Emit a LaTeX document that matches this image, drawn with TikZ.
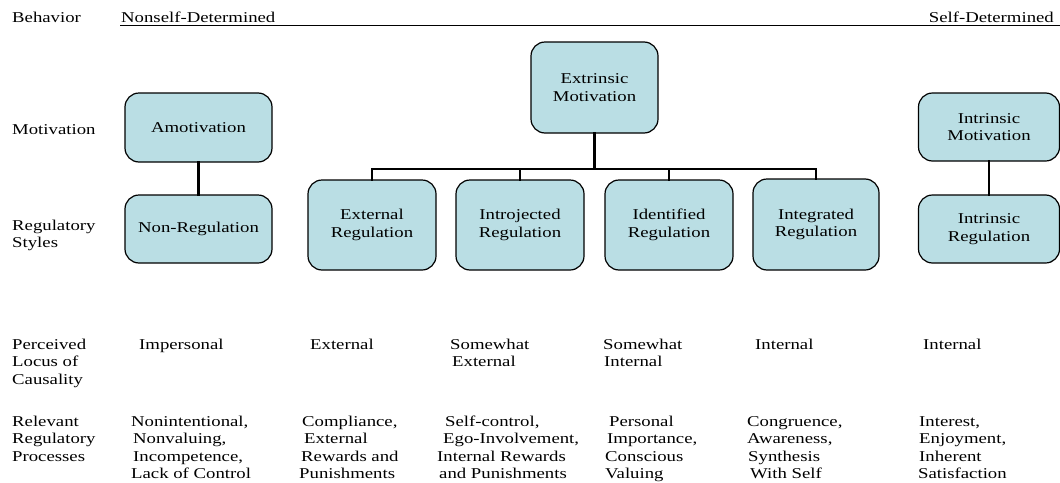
\documentclass[tikz,border=0pt]{standalone}
\usepackage{fontspec}
\setmainfont{Liberation Serif}[FakeStretch=1.25]
\definecolor{boxfill}{RGB}{186,222,228}
\tikzset{
  txt/.style={inner sep=0pt, anchor=base west, font=\fontsize{15}{17.5}\selectfont},
  stage/.style={draw=black, line width=1.2pt, fill=boxfill, rounded corners=14pt,
    align=center, inner sep=2pt, font=\fontsize{15}{17.5}\selectfont},
  link/.style={line width=2.7pt, line cap=rect},
}
% one column of left-aligned lines: name, first baseline, list of x/text
\newcommand{\linecol}[3]{%
  \foreach \lx/\lt [count=\li] in {#3}
    \node[txt] (#1-\li) at (\lx, #2+17.5*\li-17.5) {\lt};}
\begin{document}
\begin{tikzpicture}[x=1pt,y=-1pt]
\useasboundingbox (0,0) rectangle (1060,482);

% header row
\node[txt] (behav) at (12,22.5) {Behavior};
\node[txt] (nonself) at (121,22.5) {Nonself-Determined};
\node[txt, anchor=base east] (self) at (1054,22.5) {Self-Determined};
\coordinate (rule-l) at (120,25.5);
\coordinate (rule-r) at (1060,25.5);
\draw[line width=1.3pt] (rule-l) -- (rule-r);

% row labels
\linecol{motl}{134}{12/Motivation}
\linecol{regl}{230}{12/Regulatory, 12/Styles}
\linecol{locl}{349}{12/Perceived, 12/{Locus of}, 12/Causality}
\linecol{procl}{426}{12/Relevant, 12/Regulatory, 12/Processes}

% motivation and regulation boxes
\node[stage, minimum width=147pt, minimum height=69pt] (amot) at (198.5,127.5) {Amotivation};
\node[stage, minimum width=147pt, minimum height=68pt] (nonreg) at (198.5,229) {Non-Regulation};
\node[stage, minimum width=127pt, minimum height=91pt] (extr) at (594.5,87.5) {Extrinsic\\Motivation};
\node[stage, minimum width=128pt, minimum height=90pt] (ext) at (372,225) {External\\Regulation};
\node[stage, minimum width=128pt, minimum height=90pt] (intro) at (520,225) {Introjected\\Regulation};
\node[stage, minimum width=128pt, minimum height=90pt] (ident) at (669,225) {Identified\\Regulation};
\node[stage, minimum width=126pt, minimum height=91pt] (integ) at (816,224.5) {Integrated\\Regulation};
\node[stage, minimum width=141pt, minimum height=68pt] (intrmot) at (989,127) {Intrinsic\\Motivation};
\node[stage, minimum width=141pt, minimum height=68pt] (intrreg) at (989,229) {Intrinsic\\Regulation};

% connectors
\coordinate (bus) at (594.5,169);
\draw[link] (amot) -- (nonreg);
\draw[link] (intrmot) -- (intrreg);
\draw[link] (extr) -- (bus);
\draw[link] (ext.north) |- (bus) -| (integ.north);
\draw[link] (intro.north) -- (intro.north |- bus);
\draw[link] (ident.north) -- (ident.north |- bus);

% perceived locus of causality
\linecol{loc1}{349}{139/Impersonal}
\linecol{loc2}{349}{310/External}
\linecol{loc3}{349}{450/Somewhat, 452/External}
\linecol{loc4}{349}{603/Somewhat, 604/Internal}
\linecol{loc5}{349}{755/Internal}
\linecol{loc6}{349}{923/Internal}

% relevant regulatory processes
\linecol{proc1}{426}{131/{Nonintentional,}, 133/{Nonvaluing,}, 133/{Incompetence,}, 131/{Lack of Control}}
\linecol{proc2}{426}{302/{Compliance,}, 304/External, 301/{Rewards and}, 299/Punishments}
\linecol{proc3}{426}{445/{Self-control,}, 443/{Ego-Involvement,}, 437/{Internal Rewards}, 439/{and Punishments}}
\linecol{proc4}{426}{609/Personal, 607/{Importance,}, 605/Conscious, 605/Valuing}
\linecol{proc5}{426}{747/{Congruence,}, 747/{Awareness,}, 748/Synthesis, 750/{With Self}}
\linecol{proc6}{426}{919/{Interest,}, 919/{Enjoyment,}, 919/Inherent, 918/Satisfaction}
\end{tikzpicture}
\end{document}
